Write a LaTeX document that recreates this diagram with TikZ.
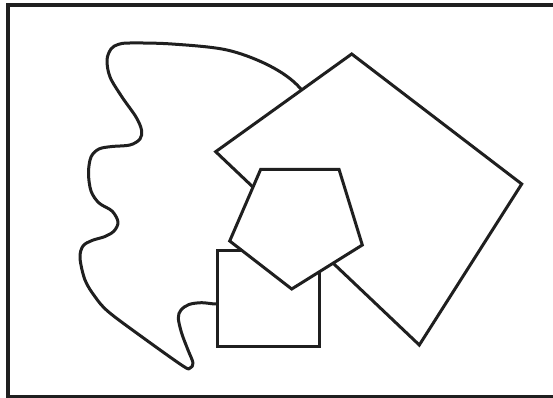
\documentclass[tikz,border=0pt]{standalone}
\begin{document}
\begin{tikzpicture}[x=1pt,y=-1pt,
  shapeline/.style={draw=black!88, line width=3pt, fill=white, line join=miter},
  blobline/.style={draw=black!88, line width=3pt, fill=white, line join=round}]
\useasboundingbox (0,0) rectangle (553,398);
\clip (0,0) rectangle (553,398);
% frame
\draw[draw=black!88, line width=3.4pt] (8,5) rectangle (580,397);
% blob
\draw[blobline] plot[smooth cycle, tension=0.55] coordinates {
 (130,43) (172,44) (227,50) (270,66) (300,88) (322,125) (300,200) (265,280)
 (232,302) (216.7,304) (201.7,302.7) (189,304.5) (181,310) (178.3,318)
 (181.7,333.3) (188,350) (193,363) (190,368) (183,366) (141.7,336.7)
 (108.3,311.7) (95,296.7) (85,280) (80,258) (83,246) (92,240.5) (105,236.5)
 (114,231) (118,222) (112,211) (99,203) (91,191) (88.5,173) (91,157)
 (99,149) (112,146.5) (130,145) (140,139) (141.5,130) (136,117) (122,97)
 (110,77) (107,60) (111,49) (118,44.5)};
% big rotated rectangle
\coordinate (rt) at (351.7,54);
\coordinate (rr) at (521.7,184);
\coordinate (rb) at (419.3,345);
\coordinate (rl) at (215.7,151.7);
\draw[shapeline] (rt) -- (rr) -- (rb) -- (rl) -- cycle;
% square
\coordinate (sa) at (217.5,250);
\coordinate (sb) at (319,346);
\draw[shapeline] (sa) rectangle (sb);
% pentagon
\coordinate (p1) at (260.7,169.3);
\coordinate (p2) at (339,169.3);
\coordinate (p3) at (362.3,245);
\coordinate (p4) at (291.7,289);
\coordinate (p5) at (229.7,241);
\draw[shapeline] (p1) -- (p2) -- (p3) -- (p4) -- (p5) -- cycle;
\end{tikzpicture}
\end{document}
